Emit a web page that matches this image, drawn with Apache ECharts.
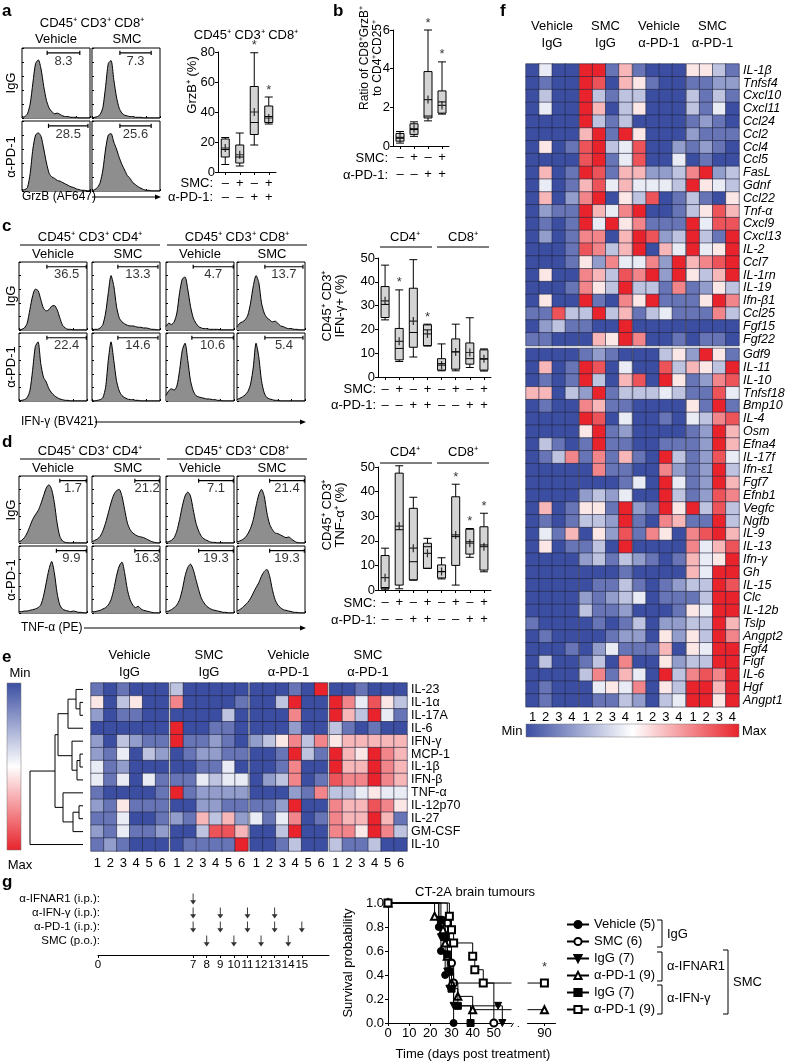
<!DOCTYPE html>
<html><head><meta charset="utf-8">
<script src="https://cdn.jsdelivr.net/npm/echarts@6/dist/echarts.min.js"></script>
<style>html,body{margin:0;padding:0;background:#fff}#c{width:788px;height:1063px}</style>
</head><body><div id="c"></div>
<script>
// ================= DATA =================
// flow histograms (relative height, 26 bins across the gate axis)
const histA = [
  [1,2,6,20,50,78,83,70,45,25,14,9,6,7,5,3,2,2,1,1,1,0,0,0,0,0],
  [0,1,2,5,15,45,78,82,55,30,14,7,4,3,2,2,1,1,1,0,0,0,0,0,0,0],
  [1,2,5,25,60,80,83,78,60,40,25,20,18,15,14,12,10,8,6,5,3,2,1,1,0,0],
  [0,2,5,12,30,60,80,82,70,60,48,38,30,22,18,12,9,6,4,2,1,1,0,0,0,0]
];
const gateA = [[37,85],[41,87],[39,97],[41,87]];
const gateLabelA = ['8.3','7.3','28.5','25.6'];
const histC = [
  [0,1,3,10,30,50,60,58,45,32,28,30,35,36,30,18,7,3,1,1,0,0,0,0,0,0],
  [0,1,1,3,8,25,55,80,65,35,18,12,9,7,6,6,5,4,4,3,3,2,1,1,0,0],
  [5,10,8,12,25,55,75,78,60,35,18,10,5,3,2,2,1,1,1,1,0,0,0,0,0,0],
  [4,10,12,15,22,40,65,80,70,40,25,18,15,12,13,10,6,5,3,2,2,1,1,0,0,0],
  [0,1,2,5,15,45,80,87,55,35,28,18,12,8,5,3,2,1,1,0,0,0,0,0,0,0],
  [0,0,1,2,5,20,60,87,60,30,15,8,5,3,2,2,1,1,0,0,0,0,0,0,0,0],
  [8,15,18,16,22,45,75,85,60,30,15,8,6,5,4,3,3,2,2,1,1,0,0,0,0,0],
  [2,4,6,9,14,25,50,85,65,30,12,5,3,2,1,1,0,0,0,0,0,0,0,0,0,0]
];
const gateC = [[41,99],[38,97],[40,99],[41,97],[41,99],[38,97],[38,99],[41,97]];
const gateLabelC = ['36.5','13.3','4.7','13.7','22.4','14.6','10.6','5.4'];
const histD = [
  [2,4,8,15,25,35,42,48,58,70,82,87,80,60,30,10,3,1,0,0,0,0,0,0,0,0],
  [2,4,6,10,18,30,45,60,72,78,80,70,50,30,20,15,12,10,9,8,6,4,2,1,0,0],
  [1,2,4,8,18,35,55,70,76,70,50,30,18,10,6,4,2,1,1,0,0,0,0,0,0,0],
  [2,3,5,8,14,22,35,55,72,80,70,45,28,20,15,14,12,10,8,9,6,3,1,0,0,0],
  [2,2,3,3,4,5,6,8,12,25,45,65,77,60,30,12,6,4,3,2,3,2,1,1,0,0],
  [2,2,3,4,6,8,12,20,35,55,70,76,60,35,20,12,8,10,6,4,3,2,1,0,0,0],
  [2,3,5,8,12,20,35,55,68,73,65,50,35,22,15,10,7,5,4,3,2,1,1,0,0,0],
  [3,5,8,12,16,22,30,38,45,55,62,65,55,35,20,12,8,5,4,3,2,1,1,0,0,0]
];
const gateD = [[60,99],[63,99],[48,99],[48,99],[55,99],[63,99],[48,99],[48,99]];
const gateLabelD = ['1.7','21.2','7.1','21.4','9.9','16.3','19.3','19.3'];

// box plots: [min, Q1, median, Q3, max]
const smc4 = ['–','+','–','+'], pd14 = ['–','–','+','+'];
const smc8 = ['–','+','–','+','–','+','–','+'], pd18 = ['–','–','+','+','–','–','+','+'];
const aBox = [[5,10,15,22,23],[4,6,10,18,26],[18,25,33,57,79.5],[32,33,37,44,50]];
const aMean = [16,11.5,40,36];
const aStar = [0,0,1,1];
const bBox = [[0.15,0.25,0.4,0.65,0.75],[0.5,0.6,0.85,1.15,1.25],[1.3,1.45,1.55,3.85,6.0],[1.65,1.7,2.28,2.85,4.35]];
const bMean = [0.45,0.9,2.4,2.1];
const bStar = [0,0,1,1];
const cBox = [[24,25,30.5,38,47],[6.5,7.2,12,20.4,36.6],[8.4,12.5,18.7,37.3,49.3],[13,13.2,19.8,21.9,22.2],[2.6,2.9,5.6,7.7,13.9],[2.6,3.3,10.6,16,22.2],[4,5.4,7.7,14.3,24.9],[2.5,2.9,7.5,11.4,11.8]];
const cMean = [32,15,23.5,18.1,5,10.5,10.3,7.7];
const cStar = [0,1,0,1,0,0,0,0];
const dBox = [[0,0.5,1,14,17],[0.5,2,24.5,47.5,50.5],[4,4.1,11.5,33.2,37.7],[8.8,8.8,17.6,19,21],[4.5,4.9,7.5,10.2,13.1],[2,10,21.7,37.9,43],[13.3,14.6,19.6,24.7,25],[7.4,8.1,18.3,25.7,31.2]];
const dMean = [5,26,17,14.9,7.5,22.4,19,17.6];
const dStar = [0,1,0,0,0,1,1,1];

// heatmap e (levels 0=min .. 9=max), 4 groups x 6 mice
const eRows = ['IL-23','IL-1α','IL-17A','IL-6','IFN-γ','MCP-1','IL-1β','IFN-β','TNF-α','IL-12p70','IL-27','GM-CSF','IL-10'];
const eVals = [
  '101000'+'300000'+'000109'+'001000',
  '503500'+'700001'+'003900'+'974853',
  '201100'+'000030'+'000700'+'963941',
  '000000'+'900110'+'000200'+'310100',
  '203211'+'911210'+'235737'+'566666',
  '214032'+'012211'+'001931'+'965976',
  '412000'+'001140'+'001700'+'966976',
  '414041'+'114344'+'023701'+'877976',
  '100001'+'912222'+'000217'+'334544',
  '215111'+'002211'+'112900'+'766875',
  '114001'+'216362'+'414701'+'766961',
  '214112'+'003886'+'003900'+'775973',
  '121000'+'011119'+'001300'+'311300'
];
const groupLabels = ['Vehicle\nIgG','SMC\nIgG','Vehicle\nα-PD-1','SMC\nα-PD-1'];
// dendrogram merges: [nodeA, nodeB, height]; rows are leaves 1..13, merges create nodes 14..
const eMerges = [[2,3,3],[1,14,7],[15,4,15],[6,7,3],[17,8,6],[5,18,11],[16,19,25],[10,11,4],[21,12,10],[9,22,20],[20,23,28],[24,13,53]];

// heatmap f, 4 groups x 4 mice
const fRows = ['IL-1β','Tnfsf4','Cxcl10','Cxcl11','Ccl24','Ccl2','Ccl4','Ccl5','FasL','Gdnf','Ccl22','Tnf-α','Cxcl9','Cxcl13','IL-2','Ccl7','IL-1rn','IL-19','Ifn-β1','Ccl25','Fgf15','Fgf22',
  'Gdf9','IL-11','IL-10','Tnfsf18','Bmp10','IL-4','Osm','Efna4','IL-17f','Ifn-ε1','Fgf7','Efnb1','Vegfc','Ngfb','IL-9','IL-13','Ifn-γ','Gh','IL-15','Clc','IL-12b','Tslp','Angpt2','Fgf4','Figf','IL-6','Hgf','Angpt1'];
const fVals = [
  '0400991610005531','0100980651001122','0300931330003131','0400960350003140','0000931300001210',
  '0000691950002111','0501893480021210','0000891480040100','0601981662237923','0401684644439543',
  '0602790538013105','0211964790013586','0101949571119488','0201770698239319','0001873690649459',
  '0001527447296789','0500763879295369','0001753933171253','0500910759111597','1183393613411173',
  '0231100900000000','1100065970010110',
  '0000121000352951','0601980400836539','0101930680951278','6603291333431184','0100761100005191',
  '0000980400104378','0000591200001296','0310191100111296','0137171610931284','0000071100721293',
  '0000000140941296','0000232400931287','0601551921959383','0101332910761193','0416052817507896',
  '0501130900007468','0000231321016459','0000000100006499','0000011310123398','0000212340111399',
  '0000311200015499','1000010130223396','0100001220525397','0001024111605499','0300130700523399',
  '0000371640937879','0100045470539969','0100011320349959'
];
const fUpperRows = 22;

// timeline g (days)
const timelineTicks = [0,7,8,9,10,11,12,13,14,15];
const ifnarDays = [7];
const ifngDays = [7,9,11,13];
const pd1Days = [7,9,11,13,15];
const smcDays = [8,10,12,14];

// survival curves (time, probability)
const vehT = [0,24,25,27,31], vehS = [1,0.8,0.6,0.4,0];
const smcT = [0,28,29,30,31,50], smcS = [1,0.833,0.667,0.5,0.333,0];
const ifnarIgGT = [0,24,25,27,28,29,31,52,54], ifnarIgGS = [1,0.857,0.714,0.571,0.429,0.286,0.143,0.143,0];
const ifnarPd1T = [0,22,26,27,28,29,30,33,40,90], ifnarPd1S = [1,0.889,0.778,0.667,0.556,0.444,0.333,0.222,0.111,0.111];
const ifngIgGT = [0,25,27,28,29,30,33,39], ifngIgGS = [1,0.857,0.714,0.571,0.429,0.286,0.143,0];
const ifngPd1T = [0,29,30,31,40,41,45,90], ifngPd1S = [1,0.889,0.778,0.667,0.556,0.444,0.333,0.333];
const survNames = ['IgG|Vehicle (5)','IgG|SMC (6)','IFNAR1|IgG (7)','IFNAR1|α-PD-1 (9)','IFNG|IgG (7)','IFNG|α-PD-1 (9)'];
const survTicks = [0,10,20,30,40,50,90];

// ================= BUILD =================
const FONT = "'Liberation Sans', Arial, Helvetica, sans-serif";
const BLUE = '#3b4ea2', RED = '#e8232b';
const grids = [], xAxis = [], yAxis = [], series = [], graphic = [], heatSeries = [];

function addGrid(g, xa, ya) {
  const idx = grids.length;
  grids.push(Object.assign({outerBoundsMode: 'none', containLabel: false}, g));
  xAxis.push(Object.assign({gridIndex: idx}, xa));
  yAxis.push(Object.assign({gridIndex: idx}, ya));
  return idx;
}
function T(x, y, text, o) {
  o = o || {};
  const al = o.align || 'center', va = o.va || 'middle';
  graphic.push({type: 'text', x, y, rotation: o.rot || 0, z: 50, silent: true,
    style: {text, fill: '#000', fontSize: o.size || 13, fontFamily: FONT, fontWeight: o.weight || 'normal',
      fontStyle: o.style || 'normal', align: al, verticalAlign: va, textAlign: al, textVerticalAlign: va, lineHeight: o.lh || 15}});
}
function L(x1, y1, x2, y2, w, col) {
  graphic.push({type: 'line', silent: true, z: 50, shape: {x1, y1, x2, y2}, style: {stroke: col || '#000', lineWidth: w || 1}});
}
function PL(points) { graphic.push({type: 'polyline', silent: true, z: 50, shape: {points}, style: {stroke: '#000', lineWidth: 1, fill: null}}); }
function PG(points) { graphic.push({type: 'polygon', silent: true, z: 50, shape: {points}, style: {fill: '#000'}}); }
function arrow(x1, x2, y) { L(x1, y, x2 - 4, y); PG([[x2 - 6, y - 2.5], [x2, y], [x2 - 6, y + 2.5]]); }
const R90 = Math.PI / 2;

function histAxis() {
  return {type: 'value', min: 0, max: 100, interval: 20, axisLine: {show: false},
    axisTick: {show: true, inside: true, length: 2, lineStyle: {color: '#000', width: 1}},
    axisLabel: {show: false}, splitLine: {show: false}};
}
function hist(left, top, w, h, vals, gate, label) {
  const i = addGrid({left, top, width: w, height: h, show: true, borderColor: '#000', borderWidth: 1, backgroundColor: '#fff'}, histAxis(), histAxis());
  series.push({type: 'line', xAxisIndex: i, yAxisIndex: i, data: vals.map((v, k) => [k * 100 / (vals.length - 1), v]),
    symbol: 'none', smooth: 0.25, lineStyle: {color: '#000', width: 1}, areaStyle: {color: '#8e8e8e', opacity: 1}, silent: true, z: 2});
  const g0 = gate[0], g1 = gate[1];
  series.push({type: 'line', xAxisIndex: i, yAxisIndex: i, data: [[g0, 90], [g0, 96], [g0, 93], [g1, 93], [g1, 96], [g1, 90]],
    symbol: 'none', lineStyle: {color: '#000', width: 1.2}, silent: true, z: 3});
  series.push({type: 'scatter', xAxisIndex: i, yAxisIndex: i, data: [[(g0 + g1) / 2, 81]], symbolSize: 1,
    itemStyle: {color: 'rgba(0,0,0,0)'}, label: {show: true, position: 'inside', formatter: label, color: '#000', fontSize: 13, fontFamily: FONT}, silent: true, z: 4});
}
const PLUS = 'path://M3.4,0 L4.6,0 L4.6,3.4 L8,3.4 L8,4.6 L4.6,4.6 L4.6,8 L3.4,8 L3.4,4.6 L0,4.6 L0,3.4 L3.4,3.4 Z';
function boxplot(o) {
  const cats = o.smc.map((s, k) => s + '\n' + o.pd1[k]);
  const i = addGrid({left: o.left, top: o.top, width: o.w, height: o.h},
    {type: 'category', data: cats, boundaryGap: true, axisLine: {show: true, lineStyle: {color: '#000', width: 1}},
      axisTick: {show: true, alignWithLabel: true, length: 3, lineStyle: {color: '#000'}},
      axisLabel: {interval: 0, color: '#000', fontSize: 13, fontFamily: FONT, lineHeight: o.lh, margin: o.margin}, splitLine: {show: false}},
    {type: 'value', min: 0, max: o.max, interval: o.interval, axisLine: {show: true, lineStyle: {color: '#000', width: 1}},
      axisTick: {show: true, length: 3, lineStyle: {color: '#000'}}, axisLabel: {color: '#000', fontSize: 13, fontFamily: FONT, margin: 3},
      splitLine: {show: false}});
  series.push({type: 'boxplot', xAxisIndex: i, yAxisIndex: i, data: o.boxes, boxWidth: [8, 8],
    itemStyle: {color: '#d4d4d4', borderColor: '#000', borderWidth: 1}, silent: true, z: 2});
  series.push({type: 'scatter', xAxisIndex: i, yAxisIndex: i, data: o.means.map((m, k) => [k, m]), symbol: PLUS, symbolSize: 8,
    itemStyle: {color: '#000'}, silent: true, z: 5});
  const st = []; o.stars.forEach((s, k) => { if (s) st.push([k, o.boxes[k][4]]); });
  series.push({type: 'scatter', xAxisIndex: i, yAxisIndex: i, data: st, symbolSize: 1, itemStyle: {color: 'rgba(0,0,0,0)'},
    label: {show: true, position: 'top', distance: 0, formatter: '*', color: '#000', fontSize: 13, fontFamily: FONT}, silent: true, z: 5});
}
function heat(left, top, w, h, rowNames, rowVals, c0, nc, opt) {
  const cols = Array.from({length: nc}, (_, k) => String(k + 1));
  const data = [];
  rowVals.forEach((s, r) => { for (let c = 0; c < nc; c++) data.push([c, r, Number(s[c0 + c])]); });
  const i = addGrid({left, top, width: w, height: h},
    {type: 'category', data: cols, axisLine: {show: false}, axisTick: {show: false}, splitLine: {show: false},
      axisLabel: {show: !!opt.showX, color: '#000', fontSize: 13, fontFamily: FONT, margin: opt.xMargin || 5, interval: 0}},
    {type: 'category', data: rowNames, inverse: true, position: 'right', axisLine: {show: false}, axisTick: {show: false}, splitLine: {show: false},
      axisLabel: {show: !!opt.showY, color: '#000', fontSize: opt.ySize || 12.5, fontFamily: FONT, fontStyle: opt.italic ? 'italic' : 'normal', margin: 4, interval: 0}});
  heatSeries.push(series.length);
  series.push({type: 'heatmap', xAxisIndex: i, yAxisIndex: i, data, itemStyle: {borderColor: '#23263f', borderWidth: 0.6}, emphasis: {disabled: true}, silent: true});
}

// ---------- panel a ----------
T(2, 11, 'a', {weight: 'bold', size: 17, align: 'left'});
T(92, 23, 'CD45⁺ CD3⁺ CD8⁺');
T(56, 39, 'Vehicle'); T(127, 39, 'SMC');
T(11, 83, 'IgG', {rot: R90}); T(11, 157, 'α-PD-1', {rot: R90});
[[22, 48], [92, 48], [22, 121], [92, 121]].forEach((p, k) => hist(p[0], p[1], 68, 70, histA[k], gateA[k], gateLabelA[k]));
T(22, 197, 'GrzB (AF647)', {align: 'left', size: 12}); arrow(92, 161, 197);
T(246, 35, 'CD45⁺ CD3⁺ CD8⁺');
T(192, 85, 'GrzB⁺ (%)', {rot: R90});
boxplot({left: 218, top: 52, w: 58, h: 120, max: 80, interval: 20, boxes: aBox, means: aMean, stars: aStar, smc: smc4, pd1: pd14, lh: 14, margin: 4});
T(213, 183, 'SMC:', {align: 'right'}); T(213, 197, 'α-PD-1:', {align: 'right'});

// ---------- panel b ----------
T(333, 11, 'b', {weight: 'bold', size: 17, align: 'left'});
T(371, 58, 'Ratio of CD8⁺GrzB⁺\nto CD4⁺CD25⁺', {rot: R90, lh: 13, size: 12});
boxplot({left: 393, top: 30, w: 56, h: 116, max: 6, interval: 2, boxes: bBox, means: bMean, stars: bStar, smc: smc4, pd1: pd14, lh: 17, margin: 3});
T(388, 158, 'SMC:', {align: 'right'}); T(388, 175, 'α-PD-1:', {align: 'right'});

// ---------- panel c / d ----------
function flowPanel(letter, ly, titleY, rows, histData, gates, labels, axisText, axisY, arrowStart) {
  T(2, ly, letter, {weight: 'bold', size: 17, align: 'left'});
  T(90, titleY, 'CD45⁺ CD3⁺ CD4⁺'); L(20, titleY + 8, 160, titleY + 8);
  T(237, titleY, 'CD45⁺ CD3⁺ CD8⁺'); L(167, titleY + 8, 307, titleY + 8);
  T(53, titleY + 17, 'Vehicle'); T(128, titleY + 17, 'SMC'); T(200, titleY + 17, 'Vehicle'); T(272, titleY + 17, 'SMC');
  const xs = [19, 92, 166, 237];
  T(11, rows[0] + 34, 'IgG', {rot: R90}); T(11, rows[1] + 34, 'α-PD-1', {rot: R90});
  for (let r = 0; r < 2; r++) for (let c = 0; c < 4; c++) hist(xs[c], rows[r], 68, rows[2], histData[r * 4 + c], gates[r * 4 + c], labels[r * 4 + c]);
  T(21, axisY, axisText, {align: 'left', size: 12}); arrow(arrowStart, 306, axisY);
}
flowPanel('c', 226, 237, [262, 333, 68], histC, gateC, gateLabelC, 'IFN-γ (BV421)', 422, 95);
flowPanel('d', 442, 451, [476, 546, 67], histD, gateD, gateLabelD, 'TNF-α (PE)', 628, 84);

T(405, 237, 'CD4⁺'); L(380, 247, 432, 247);
T(463, 237, 'CD8⁺'); L(437, 247, 489, 247);
T(334, 306, 'CD45⁺ CD3⁺\nIFN-γ+ (%)', {rot: R90, lh: 13});
boxplot({left: 378, top: 258, w: 113, h: 119, max: 50, interval: 10, boxes: cBox, means: cMean, stars: cStar, smc: smc8, pd1: pd18, lh: 16, margin: 4});
T(376, 389, 'SMC:', {align: 'right'}); T(376, 405, 'α-PD-1:', {align: 'right'});

T(405, 452, 'CD4⁺'); L(380, 463, 432, 463);
T(463, 452, 'CD8⁺'); L(437, 463, 489, 463);
T(334, 515, 'CD45⁺ CD3⁺\nTNF-α⁺ (%)', {rot: R90, lh: 13});
boxplot({left: 378, top: 467, w: 113, h: 123, max: 50, interval: 10, boxes: dBox, means: dMean, stars: dStar, smc: smc8, pd1: pd18, lh: 17, margin: 4});
T(376, 603, 'SMC:', {align: 'right'}); T(376, 620, 'α-PD-1:', {align: 'right'});

// ---------- panel e ----------
T(2, 657, 'e', {weight: 'bold', size: 17, align: 'left'});
const eBlockX = [91, 170.5, 250, 329.5];
eBlockX.forEach((x, b) => T(x + 38.5, 664, groupLabels[b], {lh: 17}));
for (let b = 0; b < 4; b++) heat(eBlockX[b], 683, 77.5, 168, eRows, eVals, 6 * b, 6, {showX: true, showY: b === 3, xMargin: 6});
T(20, 673, 'Min'); T(20, 865, 'Max');
graphic.push({type: 'rect', silent: true, shape: {x: 7, y: 683, width: 14, height: 167},
  style: {fill: {type: 'linear', x: 0, y: 0, x2: 0, y2: 1, colorStops: [{offset: 0, color: BLUE}, {offset: 0.5, color: '#ffffff'}, {offset: 1, color: RED}]}, stroke: '#777', lineWidth: 0.5}});
// dendrogram
const nodeY = {}, nodeH = {};
for (let r = 1; r <= 13; r++) { nodeY[r] = r; nodeH[r] = 0; }
const dendroLines = eMerges.map((m, k) => {
  const a = m[0], b = m[1], h = m[2], id = 14 + k;
  nodeY[id] = (nodeY[a] + nodeY[b]) / 2; nodeH[id] = h;
  return {coords: [[nodeH[a], nodeY[a]], [h, nodeY[a]], [h, nodeY[b]], [nodeH[b], nodeY[b]]]};
});
const di = addGrid({left: 30, top: 683, width: 53, height: 168},
  {type: 'value', min: 0, max: 53, inverse: true, show: false},
  {type: 'value', min: 0.5, max: 13.5, inverse: true, show: false});
series.push({type: 'lines', coordinateSystem: 'cartesian2d', xAxisIndex: di, yAxisIndex: di, polyline: true, data: dendroLines,
  lineStyle: {color: '#000', width: 1, opacity: 1}, silent: true});

// ---------- panel f ----------
T(500, 11, 'f', {weight: 'bold', size: 17, align: 'left'});
const fBlockX = [526, 579.5, 633, 686.5];
fBlockX.forEach((x, b) => T(x + 26, 35, groupLabels[b], {lh: 17}));
for (let b = 0; b < 4; b++) {
  heat(fBlockX[b], 64, 52.5, 281.6, fRows.slice(0, fUpperRows), fVals.slice(0, fUpperRows), 4 * b, 4, {showY: b === 3, italic: true});
  heat(fBlockX[b], 348.4, 52.5, 358.4, fRows.slice(fUpperRows), fVals.slice(fUpperRows), 4 * b, 4, {showX: true, showY: b === 3, italic: true, xMargin: 4});
}
T(512, 731, 'Min'); T(742, 731, 'Max', {align: 'left'});
graphic.push({type: 'rect', silent: true, shape: {x: 526, y: 724, width: 213, height: 13},
  style: {fill: {type: 'linear', x: 0, y: 0, x2: 1, y2: 0, colorStops: [{offset: 0, color: BLUE}, {offset: 0.5, color: '#ffffff'}, {offset: 1, color: RED}]}, stroke: '#777', lineWidth: 0.5}});

// ---------- panel g ----------
T(2, 882, 'g', {weight: 'bold', size: 17, align: 'left'});
T(100, 899, 'α-IFNAR1 (i.p.):', {align: 'right', size: 11.5});
T(100, 913, 'α-IFN-γ (i.p.):', {align: 'right', size: 11.5});
T(100, 927, 'α-PD-1 (i.p.):', {align: 'right', size: 11.5});
T(100, 941, 'SMC (p.o.):', {align: 'right', size: 11.5});
const ti = addGrid({left: 98, top: 892, width: 231, height: 63},
  {type: 'value', min: 0, max: 17, axisLine: {show: true, lineStyle: {color: '#000'}},
    axisTick: {show: true, length: 3, customValues: timelineTicks, lineStyle: {color: '#000'}},
    axisLabel: {show: true, customValues: timelineTicks, color: '#000', fontSize: 11.5, margin: 4, fontFamily: FONT}, splitLine: {show: false}},
  {type: 'value', min: 0, max: 4.5, show: false});
const ARROW = 'path://M4.2,0 L5.8,0 L5.8,11 L10,11 L5,18 L0,11 L4.2,11 Z';
series.push({type: 'scatter', xAxisIndex: ti, yAxisIndex: ti, symbol: ARROW, symbolSize: [6, 11], itemStyle: {color: '#000'}, silent: true,
  data: [].concat(ifnarDays.map(d => [d, 4]), ifngDays.map(d => [d, 3]), pd1Days.map(d => [d, 2]), smcDays.map(d => [d, 1]))});

// survival
T(475, 892, 'CT-2A brain tumours');
T(348, 963, 'Survival probability', {rot: R90});
T(473, 1054, 'Time (days post treatment)');
const si = addGrid({left: 388, top: 903, width: 167, height: 120},
  {type: 'value', min: 0, max: 95, breaks: [{start: 58, end: 82, gap: '10%'}],
    breakArea: {show: true, itemStyle: {color: '#fff', borderColor: '#fff', borderWidth: 0, opacity: 1}, zigzagAmplitude: 0},
    axisLine: {show: true, lineStyle: {color: '#000'}},
    axisTick: {show: true, length: 3, customValues: survTicks, lineStyle: {color: '#000'}},
    axisLabel: {customValues: survTicks, color: '#000', fontSize: 13, fontFamily: FONT, margin: 4}, splitLine: {show: false}},
  {type: 'value', min: 0, max: 1, interval: 0.2, axisLine: {show: true, lineStyle: {color: '#000'}},
    axisTick: {show: true, length: 3, lineStyle: {color: '#000'}},
    axisLabel: {color: '#000', fontSize: 13, fontFamily: FONT, margin: 4, formatter: v => v.toFixed(1)}, splitLine: {show: false}});
const survT = [vehT, smcT, ifnarIgGT, ifnarPd1T, ifngIgGT, ifngPd1T];
const survS = [vehS, smcS, ifnarIgGS, ifnarPd1S, ifngIgGS, ifngPd1S];
const survSym = ['circle', 'emptyCircle', 'triangle', 'emptyTriangle', 'rect', 'emptyRect'];
survNames.forEach((n, k) => {
  series.push({type: 'line', name: n, xAxisIndex: si, yAxisIndex: si, data: survT[k].map((t, j) => [t, survS[k][j]]), step: 'end',
    symbol: survSym[k], symbolSize: 7, symbolRotate: k === 2 ? 180 : 0, showAllSymbol: true, clip: false,
    lineStyle: {color: '#000', width: 1}, itemStyle: {color: '#000', borderColor: '#000', borderWidth: 1}, z: 3 + k, silent: true});
});
series.push({type: 'scatter', xAxisIndex: si, yAxisIndex: si, data: [[90, 0.333]], symbolSize: 1, itemStyle: {color: 'rgba(0,0,0,0)'},
  label: {show: true, position: 'top', distance: 9, formatter: '*', color: '#000', fontSize: 13}, silent: true});
// axis break mark
graphic.push({type: 'rect', silent: true, z: 60, shape: {x: 514, y: 1020, width: 7, height: 6}, style: {fill: '#fff'}});
L(511, 1027, 516, 1019, 1); L(518, 1027, 523, 1019, 1);
// legend brackets
PL([[657, 920], [662, 920], [662, 947], [657, 947]]); T(667, 934, 'IgG', {align: 'left'});
PL([[657, 952], [662, 952], [662, 981], [657, 981]]); T(667, 966, 'α-IFNAR1', {align: 'left'});
PL([[657, 985], [662, 985], [662, 1014], [657, 1014]]); T(667, 998, 'α-IFN-γ', {align: 'left'});
PL([[723, 950], [728, 950], [728, 1014], [723, 1014]]); T(733, 982, 'SMC', {align: 'left'});

const option = {
  animation: false, backgroundColor: '#fff',
  textStyle: {fontFamily: FONT, color: '#000'},
  grid: grids, xAxis, yAxis, series, graphic,
  visualMap: [{type: 'continuous', min: 0, max: 9, show: false, seriesIndex: heatSeries, inRange: {color: [BLUE, '#ffffff', RED]}}],
  legend: {data: survNames, orient: 'vertical', left: 566, top: 918, itemWidth: 22, itemHeight: 9, itemGap: 4, selectedMode: false,
    padding: 0, textStyle: {fontSize: 13, fontFamily: FONT, color: '#000'}, formatter: n => n.split('|').pop()}
};
const chart = echarts.init(document.getElementById('c'), null, {renderer: 'canvas'});
chart.setOption(option);
</script>
</body></html>
